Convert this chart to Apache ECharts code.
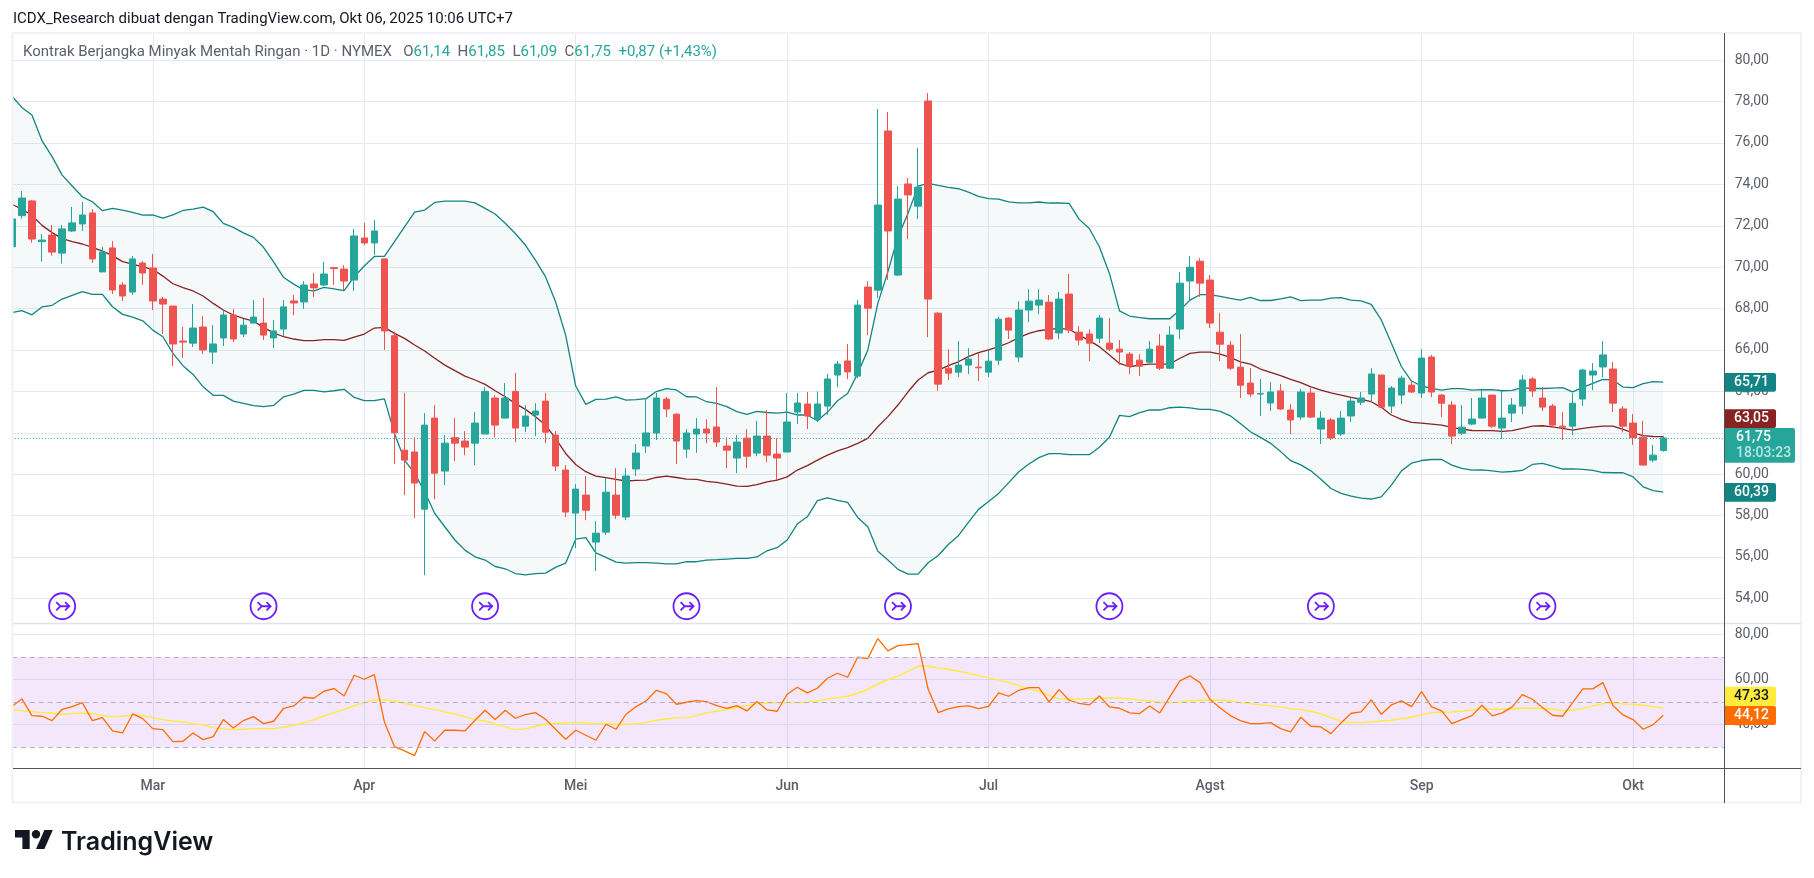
<!DOCTYPE html>
<html><head><meta charset="utf-8"><title>Kontrak Berjangka Minyak Mentah Ringan</title>
<style>html,body{margin:0;padding:0;background:#fff}#c{width:1814px;height:878px}</style>
<script src="https://cdn.jsdelivr.net/npm/echarts@6/dist/echarts.min.js"></script></head>
<body><div id="c"></div>
<script>
const opens=[70.99,72.49,73.2,71.23,71.55,70.68,71.75,72.09,72.62,69.77,
70.93,69.14,68.8,70.2,69.96,68.46,68.12,66.43,66.33,67.11,
65.9,66.58,67.69,66.77,67.3,67.3,66.58,67.01,68.37,68.32,
69.19,69.14,69.98,69.91,69.38,71.41,71.17,70.4,66.69,61.16,
61.07,58.31,62.71,60.15,61.76,61.6,61.5,61.94,63.68,62.71,
64,62.32,62.86,63.53,61.89,60.2,58.12,58.99,56.72,57.2,
58.99,57.93,60.25,61.36,61.99,63.63,62.9,61.21,61.94,62.18,
62.28,61.36,60.78,61.74,61.02,61.84,60.97,61.07,63,63.39,
62.66,63.29,64.79,65.47,64.74,69.04,68.89,76.58,69.62,74.02,
72.95,78.03,67.78,65.12,64.93,65.27,65.17,64.93,65.51,67.54,
65.66,67.93,68.17,68.31,66.82,68.7,66.86,66.77,66.57,66.33,
66.04,65.8,65.51,65.41,66.19,65.12,67.01,69.33,70.29,69.38,
66.86,66.23,65.17,64.4,63.87,63.44,64.02,63.1,62.76,63.92,
62.18,62.62,61.94,62.81,63.48,63.87,64.79,63.29,63.82,64.3,
63.92,65.66,63.82,63.34,61.98,62.42,62.71,63.82,62.23,62.95,
63.29,64.6,63.68,63.29,62.32,62.32,63.63,64.79,65.18,65.08,
63.15,62.47,61.79,60.68,61.14];
const closes=[72.33,73.34,71.36,71.31,70.73,71.85,72.14,72.52,70.4,70.73,
68.9,68.61,70.4,69.72,68.37,68.22,66.29,66.38,67.06,66,
66.29,67.69,66.53,67.2,67.59,66.72,66.92,68.08,68.27,69.14,
69,69.67,69.93,69.33,71.51,71.17,71.75,66.92,62,60.68,
59.57,62.37,60.05,61.5,61.5,61.31,62.47,64,62.37,63.68,
62.23,62.81,63.05,62.03,60.39,58.17,59.28,58.26,57.15,59.13,
58.02,59.91,61.02,61.99,63.68,63.15,61.6,61.99,62.18,61.99,
61.55,61.16,61.55,60.87,61.84,60.92,60.78,62.52,63.44,62.81,
63.39,64.6,65.32,64.94,68.17,68.02,73,71.75,73.29,73.49,
73.87,68.46,64.35,64.88,65.27,65.56,65.14,65.46,67.49,66.96,
67.93,68.36,68.41,66.53,68.46,66.96,66.48,66.33,67.54,66.04,
65.9,65.22,65.22,66.04,65.12,66.72,69.23,70,69.23,67.3,
66.28,65.12,64.3,63.87,63.9,63.97,63.15,62.62,63.97,62.76,
62.71,61.75,62.71,63.53,63.68,64.84,63.24,64.16,64.64,63.97,
65.61,63.97,63.43,61.84,62.27,62.66,63.68,62.32,62.71,63.34,
64.55,64.02,63.24,62.37,62.27,63.43,65.03,64.98,65.76,63.43,
62.32,61.76,60.44,60.92,61.75];
const lows=[70.9,72.34,71.18,70.27,70.56,70.17,71.7,71.75,70.2,69.77,
68.7,68.37,68.66,69.14,67.93,66.77,65.22,65.61,66.14,65.8,
65.32,66.19,66.38,66.63,67.3,66.48,66.09,66.67,67.69,67.98,
68.56,69.09,69.14,68.9,68.85,71.07,70.59,66,60.49,58.99,
57.88,55.12,58.8,59.47,60.63,60.92,60.44,61.94,61.79,62.71,
61.55,62.03,61.84,61.5,60.15,57.93,56.43,57.78,55.32,57.06,
57.83,57.78,59.91,61.02,61.65,62.76,60.49,60.78,61.02,61.5,
61.31,60.29,60.05,60.29,60.87,60.58,59.72,61.07,62.42,62.18,
62.52,62.86,64.21,64.6,64.64,66.72,68.51,69.38,69.57,71.36,
72.33,66.62,64.03,64.54,64.69,64.83,64.5,64.69,65.27,66.53,
65.41,67.35,67.73,66.48,66.53,66.82,66.23,65.46,66.33,65.95,
65.27,64.83,64.74,65.36,65.03,65.07,66.53,68.41,68.56,67.06,
65.46,65.03,63.68,63.73,62.81,63.05,63.1,61.94,62.62,62.71,
61.46,61.65,61.84,62.52,63.34,63.48,63.24,62.95,63.39,63.92,
63.68,63.72,62.76,61.45,61.89,62.37,62.71,62.23,61.7,62.52,
62.9,63.73,63.05,62.27,61.65,61.89,63.29,64.06,64.69,63,
62.03,61.41,60.44,60.58,61.09];
const highs=[72.4,73.68,73.25,71.6,72.04,72.04,72.91,73.15,72.81,70.97,
71.26,69.28,70.54,70.3,70.64,68.56,68.12,67.11,68.22,67.64,
67.2,67.88,67.98,67.5,68.41,68.51,67.45,68.41,68.66,69.33,
69.72,70.25,70.01,70.1,71.85,72.14,72.28,70.4,66.88,63.92,
61.78,62.95,63.34,61.89,62.71,62.08,63,64.21,63.82,64.4,
64.89,63.34,63.43,63.92,62.08,60.44,59.52,59.91,57.73,59.81,
60.29,60.29,61.45,63.66,63.92,63.73,62.95,62.18,62.71,62.66,
64.21,61.78,61.89,62.18,62.57,63.1,61.74,63.92,63.92,63.97,
64,64.84,65.47,66.29,68.41,69.33,77.64,77.5,73.92,74.31,
75.76,78.41,67.83,66.04,66.43,66.09,65.85,65.99,67.59,67.59,
68.36,68.94,68.94,68.65,68.8,69.67,67.15,67,67.69,67.54,
66.48,65.9,65.8,66.43,66.77,67.15,69.76,70.54,70.44,69.62,
67.78,66.43,66.77,65.13,64.6,64.45,64.36,63.39,64.11,64.16,
63.05,62.71,63.05,63.68,63.97,65.13,64.79,64.26,64.74,64.55,
66.04,65.76,63.87,63.53,63.34,63.68,64.06,63.82,64.02,63.68,
64.79,64.69,64.21,63.39,63,63.92,65.08,65.37,66.43,65.42,
63.29,62.9,62.57,61.41,61.85];
const upperBand=[78.27,77.72,77.35,76.11,75.34,74.45,73.92,73.4,73.16,72.73,
72.84,72.76,72.65,72.52,72.53,72.37,72.53,72.74,72.81,72.9,
72.68,72.12,71.92,71.66,71.44,70.96,70.26,69.5,69.18,68.9,
68.86,69.03,68.95,68.87,69.54,70.06,70.52,70.52,71.23,71.95,
72.66,72.76,73.13,73.19,73.19,73.19,73.11,72.84,72.57,72.12,
71.63,71.07,70.34,69.54,68.33,66.72,64.26,63.37,63.61,63.63,
63.73,63.58,63.6,63.65,63.99,64.13,64.07,63.74,63.73,63.5,
63.42,63.26,63.02,62.89,63.03,62.98,62.95,63,62.86,62.86,
62.58,63,63.55,63.9,64.87,65.99,68.25,69.78,71.47,72.6,
73.92,74.05,73.95,73.86,73.79,73.63,73.42,73.31,73.29,73.16,
73.11,73.11,73.15,73.1,73.1,73.08,72.31,71.87,70.99,69.7,
67.89,67.64,67.56,67.51,67.51,67.51,67.93,68.41,68.67,68.67,
68.59,68.49,68.41,68.54,68.39,68.39,68.47,68.57,68.38,68.41,
68.41,68.51,68.53,68.41,68.37,68.2,67.45,66.32,65.19,64.5,
64.26,64.14,64.06,64.13,64.13,64.06,64.08,64.08,64.03,64.05,
64.18,64.14,64.14,64.16,64.18,63.98,64.19,64.39,64.58,64.55,
64.21,64.18,64.37,64.47,64.45];
const middleBand=[73.04,72.8,72.51,72.02,71.67,71.38,71.23,71.12,70.96,70.78,
70.56,70.27,70.15,70.02,69.9,69.57,69.2,69.01,68.85,68.61,
68.25,67.93,67.69,67.53,67.4,67.08,66.83,66.64,66.53,66.45,
66.45,66.5,66.5,66.46,66.62,66.77,67.06,67.09,66.8,66.56,
66.24,65.95,65.6,65.27,65,64.74,64.55,64.34,64.03,63.74,
63.42,63.13,62.78,62.37,61.73,61,60.47,60.12,59.91,59.83,
59.75,59.67,59.7,59.71,59.84,59.91,59.84,59.76,59.75,59.65,
59.6,59.52,59.42,59.41,59.5,59.63,59.71,59.87,60.2,60.41,
60.68,60.92,61.13,61.28,61.49,61.73,62.29,62.78,63.34,63.98,
64.55,64.9,65.03,65.24,65.43,65.68,65.87,66,66.16,66.35,
66.6,66.8,66.93,67,67.04,67,66.72,66.45,66.16,65.76,
65.35,65.19,65.27,65.32,65.32,65.32,65.6,65.84,65.9,65.9,
65.8,65.64,65.43,65.32,65.08,64.92,64.76,64.58,64.42,64.22,
64.06,63.93,63.82,63.71,63.61,63.5,63.23,62.86,62.65,62.5,
62.47,62.42,62.37,62.26,62.18,62.11,62.1,62.1,62.07,62.1,
62.21,62.32,62.34,62.29,62.21,62.13,62.21,62.27,62.32,62.32,
62.16,62,61.86,61.82,61.81];
const lowerBand=[67.8,67.9,67.7,68.08,68.16,68.46,68.64,68.82,68.69,68.69,
68.09,67.72,67.59,67.41,66.96,66.64,65.84,65.24,64.82,64.22,
63.81,63.81,63.53,63.42,63.31,63.26,63.32,63.74,63.87,64.05,
64.05,63.98,64.03,64.1,63.71,63.55,63.55,63.64,61.97,60.68,
60.04,59.15,58.1,57.46,56.82,56.33,56.01,55.85,55.54,55.43,
55.2,55.14,55.2,55.22,55.5,55.7,56.86,56.93,56.2,55.98,
55.75,55.7,55.73,55.73,55.7,55.67,55.67,55.77,55.77,55.85,
55.87,55.9,55.93,55.93,56,56.3,56.45,56.82,57.59,57.94,
58.72,58.85,58.73,58.64,57.91,57.46,56.28,55.85,55.4,55.17,
55.17,55.72,56.07,56.6,57.03,57.67,58.3,58.68,59.07,59.59,
60.12,60.49,60.8,60.99,60.99,60.94,60.94,60.94,61.3,61.78,
62.84,62.78,62.97,63.11,63.1,63.21,63.24,63.2,63.13,63.13,
63.03,62.82,62.45,62.05,61.78,61.49,61.09,60.65,60.45,60.16,
59.75,59.31,59.07,58.94,58.84,58.8,58.9,59.47,60.16,60.53,
60.66,60.71,60.71,60.44,60.28,60.2,60.21,60.16,60.1,60.13,
60.18,60.47,60.52,60.39,60.25,60.26,60.23,60.18,60.08,60.07,
60.07,59.87,59.39,59.21,59.13];
const rsiValues=[47.98,51.39,43.98,43.69,41.76,46.8,47.98,49.76,41.76,43.1,
37.17,36.28,44.72,42.65,38.21,37.76,32.43,32.58,36.28,33.32,
34.65,42.21,38.5,41.76,43.54,40.43,41.47,47.24,48.28,52.13,
51.69,54.8,55.98,52.72,61.91,60.13,62.21,41.17,30.21,28.28,
26.21,36.87,32.73,37.47,37.47,37.17,41.91,46.35,42.21,46.35,
42.8,44.43,45.3,42.35,37.91,33.47,37.47,35.24,33.02,40.13,
37.91,44.58,47.98,50.5,55.24,53.76,49.02,49.91,50.65,50.2,
48.43,47.24,48.43,46.06,50.2,46.5,45.91,53.47,56.58,54.06,
56.13,60.58,62.8,61.02,69.91,69.3,78.2,72.73,75.1,75.54,
75.98,55.69,45.3,46.95,47.98,48.28,47.1,48.13,54.06,52.58,
55.24,56.43,56.43,50.06,55.5,50.8,49.46,48.72,52.72,47.83,
47.24,45.16,44.87,48.28,45.16,52.28,59.39,61.61,58.65,51.09,
47.39,43.98,41.76,40.43,40.43,40.87,38.21,36.73,43.24,39.24,
38.95,35.98,40.73,45.02,45.61,50.95,44.58,48.73,50.5,47.98,
54.65,47.84,46.06,40.43,42.21,43.98,48.58,43.84,45.17,47.84,
53.32,51.24,47.54,44.13,43.69,49.76,55.84,55.84,58.65,48.43,
44.28,42.21,37.91,39.98,44.12];
const rsiMaValues=[46.65,46.2,45.76,45.32,45.02,44.58,44.87,45.02,44.87,43.98,
43.54,43.69,44.28,43.98,43.1,42.21,41.61,41.17,40.43,39.84,
38.65,38.06,37.76,37.91,38.21,38.21,38.21,38.8,39.69,40.73,
42.21,43.84,45.32,46.65,48.43,49.61,50.94,51.09,50.35,49.47,
48.43,47.54,46.65,45.61,44.72,43.39,42.21,41.61,40.13,38.95,
37.76,38.06,39.24,40.13,40.58,40.72,40.87,40.72,40.43,40.43,
40.13,40.13,40.43,40.87,41.91,42.5,42.95,43.1,43.98,45.32,
45.91,46.65,47.69,48.43,49.17,49.61,49.76,49.76,49.76,49.91,
50.5,51.39,51.98,52.58,53.91,55.69,57.91,59.98,61.47,63.54,
65.91,65.91,65.17,64.58,63.69,62.8,61.76,60.72,59.84,58.65,
57.32,55.84,54.8,53,51.39,51.24,51.39,51.54,51.68,51.83,
51.83,51.39,50.94,50.5,49.91,49.76,49.91,50.5,50.8,50.94,
50.8,50.5,49.76,49.32,48.73,48.28,47.84,46.95,46.65,45.91,
44.72,43.1,41.61,40.87,40.87,41.17,41.61,41.91,42.65,43.24,
44.43,45.32,45.46,45.61,45.91,46.5,46.95,46.8,46.8,46.8,
47.24,47.39,47.24,46.8,46.2,46.35,47.1,48.28,49.32,49.61,
49.17,49.02,48.58,47.98,47.33];
const monthTicks={14:'Mar',35:'Apr',56:'Mei',77:'Jun',97:'Jul',119:'Agst',140:'Sep',161:'Okt'};
const emptyBarsRight=6;
const contractIdx=[5,25,47,67,88,109,130,152];
const contractLevel=53.62;
const priceTicks=[54,56,58,60,62,64,66,68,70,72,74,76,78,80];
const rsiTicks=[40,60,80];
const rsiLevels=[30,50,70];
const lastPrice=61.75;

[opens,closes,lows,highs,upperBand,middleBand,lowerBand,rsiValues,rsiMaValues].forEach((a,i)=>{
  if(a.length!==165) throw new Error('length '+i+': '+a.length);
});

const FONT='Roboto,"Noto Sans",sans-serif';
const UP='#26a69a',DOWN='#ef5350',BAND='#138484',MID='#872323',GRID='#e3ebf1',TXT='#5d606b';
const total=opens.length+emptyBarsRight;
const cats=Array.from({length:total},(_,i)=>String(i));
const pad=a=>a.concat(new Array(emptyBarsRight).fill(null));
const comma=v=>v.toFixed(2).replace('.',',');
const isMonth=i=>monthTicks[i]!==undefined;
const ARROW='path://M12 1a11 11 0 1 0 .01 0ZM10 12H18M14.5 8.5L18 12L14.5 15.5M7 8.5L10.5 12L7 15.5';

const xAxisCommon={type:'category',data:cats,boundaryGap:false,axisLine:{show:false},axisTick:{show:false},
  splitLine:{show:true,interval:i=>isMonth(i),lineStyle:{color:GRID,width:1}}};
const yCommon={type:'value',position:'right',scale:true,axisLine:{show:false},axisTick:{show:false},
  splitLine:{show:true,lineStyle:{color:GRID,width:1}}};

const tag=(x,y,w,h,fill,txt,color)=>({type:'group',children:[
  {type:'rect',z:200,shape:{x,y,width:w,height:h,r:[0,2,2,0]},style:{fill}},
  {type:'text',z:201,style:{x:x+w-7,y:y+h/2,text:txt,fill:color,font:'500 14px '+FONT,align:'right',verticalAlign:'middle'}}]});

const option={
  animation:false,backgroundColor:'#fff',
  title:[
    {left:13,top:12,padding:0,text:'ICDX_Research dibuat dengan TradingView.com, Okt 06, 2025 10:06 UTC+7',
     textStyle:{fontFamily:FONT,fontSize:15,fontWeight:'normal',color:'#131722'}},
    {left:23,top:45,padding:0,text:'{t|Kontrak Berjangka Minyak Mentah Ringan · 1D · NYMEX   O}{v|61,14}{t|  H}{v|61,85}{t|  L}{v|61,09}{t|  C}{v|61,75}{v|  +0,87 (+1,43%)}',
     textStyle:{rich:{t:{fontFamily:FONT,fontSize:15,fontWeight:'normal',color:'#5d606b'},v:{fontFamily:FONT,fontSize:15,fontWeight:'normal',color:UP}}}}
  ],
  grid:[
    {left:11.8,width:1711.9,top:33.5,height:589.5},
    {left:11.8,width:1711.9,top:623.5,height:144.5}
  ],
  xAxis:[
    Object.assign({},xAxisCommon,{gridIndex:0,axisLabel:{show:false}}),
    Object.assign({},xAxisCommon,{gridIndex:1,axisLabel:{show:true,interval:i=>isMonth(i),
      formatter:(v,i)=>monthTicks[v]||'',color:TXT,fontFamily:FONT,fontSize:14,fontWeight:500,margin:11}})
  ],
  yAxis:[
    Object.assign({},yCommon,{gridIndex:0,min:52.81,max:81.29,
      axisTick:{show:false,customValues:priceTicks},
      axisLabel:{customValues:priceTicks,formatter:comma,color:TXT,fontFamily:FONT,fontSize:14,margin:11}}),
    Object.assign({},yCommon,{gridIndex:1,min:20.7,max:84.9,
      axisTick:{show:false,customValues:rsiTicks},
      axisLabel:{customValues:rsiTicks,formatter:comma,color:TXT,fontFamily:FONT,fontSize:14,margin:11}})
  ],
  series:[
    {name:'bbBase',type:'line',xAxisIndex:0,yAxisIndex:0,stack:'bb',data:pad(lowerBand),symbol:'none',lineStyle:{width:0},silent:true,z:1},
    {name:'bbFill',type:'line',xAxisIndex:0,yAxisIndex:0,stack:'bb',data:pad(upperBand.map((u,i)=>+(u-lowerBand[i]).toFixed(2))),symbol:'none',lineStyle:{width:0},areaStyle:{color:'rgba(19,110,100,0.055)'},silent:true,z:1},
    {name:'Upper',type:'line',xAxisIndex:0,yAxisIndex:0,data:pad(upperBand),symbol:'none',lineStyle:{color:BAND,width:1.3},z:2},
    {name:'Lower',type:'line',xAxisIndex:0,yAxisIndex:0,data:pad(lowerBand),symbol:'none',lineStyle:{color:BAND,width:1.3},z:2},
    {name:'Basis',type:'line',xAxisIndex:0,yAxisIndex:0,data:pad(middleBand),symbol:'none',lineStyle:{color:MID,width:1.3},z:3},
    {name:'CL1!',type:'candlestick',xAxisIndex:0,yAxisIndex:0,barWidth:7,z:4,
     data:opens.map((o,i)=>[o,closes[i],lows[i],highs[i]]),
     itemStyle:{color:UP,color0:DOWN,borderColor:UP,borderColor0:DOWN,borderWidth:1},
     markLine:{silent:true,symbol:'none',label:{show:false},animation:false,
       lineStyle:{color:UP,type:[1,2],width:1},data:[{yAxis:lastPrice}]}},
    {name:'Kontrak',type:'scatter',xAxisIndex:0,yAxisIndex:0,z:5,silent:true,
     data:contractIdx.map(i=>[String(i),contractLevel]),symbol:ARROW,symbolSize:26,symbolKeepAspect:true,
     itemStyle:{color:'rgba(255,255,255,0)',borderColor:'#6a1fff',borderWidth:1.8,opacity:1}},
    {name:'RSI',type:'line',xAxisIndex:1,yAxisIndex:1,data:pad(rsiValues),symbol:'none',lineStyle:{color:'#ff6d00',width:1.3},z:4,
     markArea:{silent:true,itemStyle:{color:'rgba(156,39,224,0.11)'},data:[[{yAxis:rsiLevels[0]},{yAxis:rsiLevels[2]}]]},
     markLine:{silent:true,symbol:'none',label:{show:false},lineStyle:{color:'#b4aebf',type:[5,4],width:1},data:rsiLevels.map(v=>({yAxis:v}))}},
    {name:'RSI MA',type:'line',xAxisIndex:1,yAxisIndex:1,data:pad(rsiMaValues),symbol:'none',lineStyle:{color:'#ffeb3b',width:1.4},z:3}
  ],
  graphic:[
    {type:'rect',z:49,silent:true,shape:{x:0,y:34,width:13,height:590},style:{fill:'#fff'}},
    {type:'rect',z:50,silent:true,shape:{x:12.5,y:33,width:1788.5,height:769.5},style:{fill:'none',stroke:'#f0f2f5',lineWidth:2}},
    {type:'line',z:51,silent:true,shape:{x1:13,y1:623.5,x2:1801,y2:623.5},style:{stroke:'#e0e3eb',lineWidth:1.5}},
    {type:'line',z:51,silent:true,shape:{x1:13,y1:768.5,x2:1801,y2:768.5},style:{stroke:'#50535e',lineWidth:1}},
    {type:'line',z:51,silent:true,shape:{x1:1724.5,y1:33,x2:1724.5,y2:803},style:{stroke:'#50535e',lineWidth:1}},
    tag(1725,373,51,18.7,'#138484','65,71','#fff'),
    tag(1725,409.3,51,18.7,'#872323','63,05','#fff'),
    {type:'group',children:[
      {type:'rect',z:200,shape:{x:1725,y:428,width:70,height:34.7,r:[0,2,2,0]},style:{fill:UP}},
      {type:'text',z:201,style:{x:1736,y:437,text:'61,75',fill:'#fff',font:'500 14px '+FONT,verticalAlign:'middle'}},
      {type:'text',z:201,style:{x:1736,y:453.5,text:'18:03:23',fill:'#b9e5e0',font:'500 14px '+FONT,verticalAlign:'middle'}}]},
    tag(1725,483,51,18.7,'#138484','60,39','#fff'),
    tag(1725,686.7,51,19.3,'#ffeb3b','47,33','#131722'),
    tag(1725,706,51,19,'#ff6d00','44,12','#fff'),
    {type:'polygon',z:60,silent:true,shape:{points:[[29.7,830],[29.7,849],[22.4,849],[22.4,837.4],[15,837.4],[15,830]]},style:{fill:'#131722'}},
    {type:'polygon',z:60,silent:true,shape:{points:[[44.4,830],[52.8,830],[44.4,849],[36,849]]},style:{fill:'#131722'}},
    {type:'circle',z:60,silent:true,shape:{cx:36,cy:834.2,r:4.2},style:{fill:'#131722'}},
    {type:'text',z:60,silent:true,style:{x:61,y:842,text:'TradingView',fill:'#131722',font:'600 25px Inter,Roboto,sans-serif',verticalAlign:'middle'}}
  ]
};
const chart=echarts.init(document.getElementById('c'),null,{renderer:'canvas',width:1814,height:878});
chart.setOption(option);
</script></body></html>
